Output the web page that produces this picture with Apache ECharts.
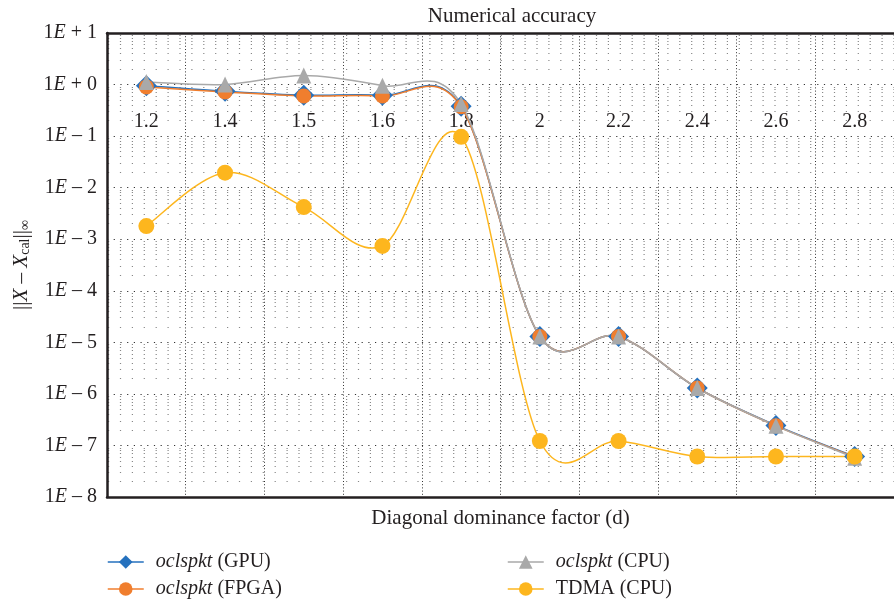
<!DOCTYPE html>
<html>
<head>
<meta charset="utf-8">
<script src="https://cdn.jsdelivr.net/npm/echarts@6/dist/echarts.min.js"></script>
<style>
html,body{margin:0;padding:0;background:#fff;}
#chart{width:894px;height:601px;}
</style>
</head>
<body>
<div id="chart"></div>
<script>
var categories = ['1.2','1.4','1.5','1.6','1.8','2','2.2','2.4','2.6','2.8'];
var gpu  = [0.95, 0.74, 0.62, 0.62, 0.38, 1.3e-5, 1.3e-5, 1.3e-6, 2.45e-7, 6.1e-8];
var fpga = [0.9, 0.72, 0.6, 0.6, 0.37, 1.3e-5, 1.3e-5, 1.3e-6, 2.4e-7, 6.0e-8];
var cpu  = [1.12, 1.0, 1.5, 0.95, 0.42, 1.3e-5, 1.3e-5, 1.3e-6, 2.4e-7, 5.8e-8];
var tdma = [1.8e-3, 1.95e-2, 4.2e-3, 7.4e-4, 9.7e-2, 1.22e-7, 1.22e-7, 6.1e-8, 6.1e-8, 6.1e-8];
var yMin = 1e-8, yMax = 10;
var minorMultipliers = [2,3,4,5,6,7,8,9];
var decades = [-8,-7,-6,-5,-4,-3,-2,-1,0];

var FONT = '"Liberation Serif", "DejaVu Serif", serif';
var INK = '#231f20';
var minorLines = [];
decades.forEach(function(d){
  minorMultipliers.forEach(function(k){ minorLines.push({yAxis: k*Math.pow(10,d)}); });
});

var chart = echarts.init(document.getElementById('chart'), null, {renderer:'canvas'});

// Excel-like smoothed curve (Catmull-Rom / 6) drawn through the axes' own scales
function curveSeries(name, values, color, z){
  return {
    type: 'custom', name: name + ' curve', z: z, silent: true,
    xAxisIndex: 0, yAxisIndex: 0,
    data: values.map(function(v, i){ return [i, v]; }),
    renderItem: function(params, api){
      var i = params.dataIndex;
      if (i >= values.length - 1) return null;
      function P(k){ k = Math.max(0, Math.min(values.length - 1, k)); return api.coord([k, values[k]]); }
      var p0 = P(i-1), p1 = P(i), p2 = P(i+1), p3 = P(i+2);
      var c1 = [p1[0] + (p2[0]-p0[0])/6, p1[1] + (p2[1]-p0[1])/6];
      var c2 = [p2[0] - (p3[0]-p1[0])/6, p2[1] - (p3[1]-p1[1])/6];
      return {
        type: 'bezierCurve',
        shape: {x1: p1[0], y1: p1[1], cpx1: c1[0], cpy1: c1[1], cpx2: c2[0], cpy2: c2[1], x2: p2[0], y2: p2[1]},
        style: {stroke: color, lineWidth: 1.5, fill: null}
      };
    }
  };
}

function markerSeries(name, data, color, symbol, size, z, extra){
  var s = {
    name: name, type: 'line', data: data, smooth: false,
    symbol: symbol, symbolSize: size, z: z,
    lineStyle: {color: color, width: 1.5, opacity: 0},
    itemStyle: {color: color},
    emphasis: {disabled: true}
  };
  if (extra) for (var k in extra) s[k] = extra[k];
  return s;
}

function legendFor(name, left, top, italicPrefix){
  return {
    data: [name], left: left, top: top, padding: 0,
    itemWidth: 36, itemHeight: 17,
    lineStyle: {opacity: 1, width: 1.5},
    formatter: function(n){ return italicPrefix ? '{i|oclspkt} ' + n.replace('oclspkt ', '') : n; },
    textStyle: {fontFamily: FONT, fontSize: 20, color: INK, padding: [0,0,0,7],
      rich: {i: {fontStyle: 'italic', fontFamily: FONT, fontSize: 20, color: INK}}}
  };
}

var option = {
  animation: false,
  backgroundColor: '#ffffff',
  title: {
    text: 'Numerical accuracy', left: 507, top: 1, textAlign: 'center',
    textStyle: {fontFamily: FONT, fontSize: 21, fontWeight: 'normal', color: INK}
  },
  legend: [
    legendFor('oclspkt (GPU)', 107, 552, true),
    legendFor('oclspkt (FPGA)', 107, 579, true),
    legendFor('oclspkt (CPU)', 507, 552, true),
    legendFor('TDMA (CPU)', 507, 579, false)
  ],
  grid: {left: 107, top: 33, right: -13, bottom: 104, containLabel: false},
  xAxis: [
    {
      type: 'category', data: categories, position: 'bottom', boundaryGap: true,
      axisLine: {show: true, lineStyle: {color: INK, width: 2.5}},
      axisTick: {show: false}, axisLabel: {show: false},
      splitLine: {show: true, lineStyle: {color: '#333', width: 1, type: [1, 2.2]}},
      name: 'Diagonal dominance factor (d)', nameLocation: 'middle', nameGap: 11,
      nameTextStyle: {fontFamily: FONT, fontSize: 21, color: INK}
    },
    {
      type: 'category', data: categories, position: 'top', boundaryGap: true,
      axisLine: {show: true, lineStyle: {color: INK, width: 2.5}},
      axisTick: {show: false},
      axisLabel: {show: true, inside: true, margin: 79, fontFamily: FONT, fontSize: 20, color: INK},
      splitLine: {show: false}
    }
  ],
  yAxis: {
    type: 'log', logBase: 10, min: yMin, max: yMax, interval: 1,
    axisLine: {show: true, lineStyle: {color: INK, width: 2.5}},
    axisTick: {show: false},
    axisLabel: {
      margin: 10, fontFamily: FONT, fontSize: 20, color: INK,
      formatter: function(v){
        var e = Math.round(Math.log10(v));
        return '1{i|E} ' + (e < 0 ? '\u2013 ' : '+ ') + Math.abs(e);
      },
      rich: {i: {fontStyle: 'italic', fontFamily: FONT, fontSize: 20, color: INK}}
    },
    splitLine: {show: true, lineStyle: {color: '#333', width: 1, type: [1.2, 5.5]}},
    name: '||{i|X} \u2013 {i|X}{s|cal}||{s|\u221E}', nameLocation: 'middle', nameGap: 73,
    nameTextStyle: {
      fontFamily: FONT, fontSize: 21, color: INK,
      rich: {
        i: {fontStyle: 'italic', fontFamily: FONT, fontSize: 21, color: INK},
        s: {fontFamily: FONT, fontSize: 14, color: INK, verticalAlign: 'bottom', padding: [9,0,0,0]}
      }
    }
  },
  series: [
    curveSeries('gpu', gpu, '#2571BE', 1),
    curveSeries('fpga', fpga, '#F07E2E', 1),
    curveSeries('cpu', cpu, '#A9A9A9', 1),
    curveSeries('tdma', tdma, '#FDB61E', 1),
    markerSeries('oclspkt (GPU)', gpu, '#2571BE', 'diamond', [21, 21], 2, {
      markLine: {
        silent: true, symbol: ['none','none'], label: {show: false}, precision: 12,
        lineStyle: {color: '#888', width: 1.1, type: [1.2, 10.7], dashOffset: 10.9},
        data: minorLines, z: 0
      }
    }),
    markerSeries('oclspkt (FPGA)', fpga, '#F07E2E', 'circle', 15, 3),
    markerSeries('oclspkt (CPU)', cpu, '#A9A9A9', 'triangle', [15, 16], 4),
    markerSeries('TDMA (CPU)', tdma, '#FDB61E', 'circle', 16, 5)
  ]
};
chart.setOption(option);
</script>
</body>
</html>
